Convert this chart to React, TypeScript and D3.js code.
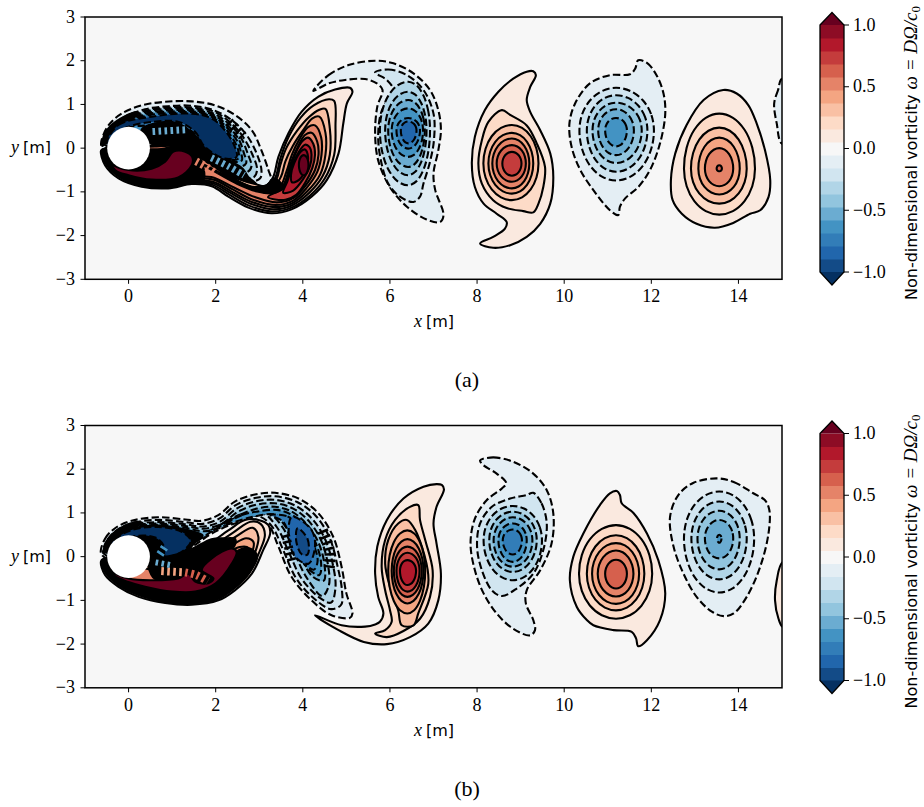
import React from "react";
import * as d3 from "d3";

type P = [number, number];
type Contour = [number, P[]];
type Egg = [number, number, number, number, number, number, number];
type Hatch = [number, number, P[]];

const xTicks = [0, 2, 4, 6, 8, 10, 12, 14];
const yTicks = [-3, -2, -1, 0, 1, 2, 3];
const cbTicks = [-1, -0.5, 0, 0.5, 1];
const rdBuStops = ["#053061", "#2166ac", "#4393c3", "#92c5de", "#d1e5f0", "#f7f7f7", "#fddbc7", "#f4a582", "#d6604d", "#b2182b", "#67001f"];
const cylinderRadius = 0.49;
const MERGED = 99; // contours packed so tightly that they read as solid black

// ---- Panel (a): contours, [band index, points in metres]
const aWakeBlue: Contour[] = [
  [8, [[-.63,.07],[-.58,.3],[-.43,.56],[-.16,.79],[.3,.98],[.84,1.06],[1.45,1.07],[1.98,.98],[2.44,.76],[2.83,.41],[3.05,-.05],[3.21,-.5],[3.27,-.73],[3.13,-.87],[2.9,-.85],[2.52,-.69],[2.06,-.35],[1.53,.11],[.53,.11],[-.54,-.05]]],
  [7, [[-.58,.12],[-.5,.35],[-.35,.53],[-.08,.72],[.38,.89],[.91,.96],[1.45,.97],[1.95,.87],[2.37,.64],[2.71,.3],[2.94,-.12],[3.05,-.5],[3.02,-.69],[2.75,-.77],[2.37,-.58],[1.91,-.2],[1.3,.18],[.53,.22],[-.4,.02]]],
  [6, [[-.56,.14],[-.32,.5],[-.02,.7],[.4,.86],[.95,.93],[1.45,.93],[1.95,.84],[2.32,.6],[2.62,.27],[2.84,-.14],[2.95,-.48],[2.88,-.66],[2.62,-.68],[2.3,-.5],[1.88,-.15],[1.3,.2],[.5,.26]]],
  [5, [[-.55,.14],[-.3,.5],[.02,.7],[.42,.84],[.95,.9],[1.45,.9],[1.93,.8],[2.3,.56],[2.58,.24],[2.74,-.14],[2.82,-.42],[2.72,-.55],[2.5,-.52],[2.15,-.36],[1.75,-.06],[1.3,.26],[.5,.32]]],
  [4, [[-.54,.14],[-.29,.5],[.1,.7],[.45,.81],[.98,.87],[1.45,.87],[1.92,.77],[2.27,.52],[2.53,.2],[2.65,-.12],[2.7,-.34],[2.58,-.42],[2.3,-.37],[2,-.17],[1.65,.05],[1.25,.33],[.5,.38]]],
  [3, [[-.53,.15],[-.27,.51],[.2,.7],[.48,.79],[1,.84],[1.45,.84],[1.92,.74],[2.25,.48],[2.5,.15],[2.58,-.1],[2.6,-.28],[2.4,-.32],[2.15,-.25],[1.85,-.05],[1.6,.15],[1.25,.42],[.5,.44]]],
  [2, [[-.52,.15],[-.25,.52],[.3,.71],[.5,.76],[1,.81],[1.45,.82],[1.92,.71],[2.23,.44],[2.47,.08],[2.53,-.12],[2.52,-.24],[2.3,-.27],[2.1,-.18],[1.8,0],[1.6,.25],[1.25,.5],[.5,.52],[-.05,.46]]],
];
const aBlueBlob: P[] = [[-.5,.15],[-.23,.53],[.53,.72],[1.45,.79],[1.91,.68],[2.21,.41],[2.44,.03],[2.48,-.2],[2.21,-.24],[1.75,.03],[1.53,.37],[1.15,.6],[.53,.6],[0,.49],[-.35,.3],[-.48,.07]];
const aBlackUnder: P[][] = [
  [[.3,.42],[.55,.55],[1.1,.58],[1.45,.36],[1.72,.1],[2.1,-.15],[2.4,-.33],[2.62,-.47],[2.74,-.65],[2.95,-.85],[2.55,-.78],[2.15,-.55],[1.7,-.3],[1.45,-.08],[1.05,.08],[.6,.05],[.45,.2]],
  [[-.6,.05],[-.56,.3],[-.42,.5],[-.1,.72],[.2,.82],[.1,.68],[-.23,.53],[-.5,.15]],
];
const aWakeRed: Contour[] = [
  [10, [[-.63,-.05],[-.54,-.39],[-.23,-.69],[.3,-.88],[.91,-.92],[1.45,-.82],[1.91,-.87],[2.29,-1.11],[2.75,-1.36],[3.28,-1.49],[3.74,-1.4],[4.2,-1.11],[4.55,-.73],[4.82,-.12],[4.93,.57],[5.01,1.02],[5.14,1.29],[5.08,1.38],[4.74,1.34],[4.36,1.18],[3.97,.83],[3.67,.34],[3.44,-.2],[3.32,-.66],[3.17,-.85],[2.9,-.89],[2.52,-.77],[2.14,-.58],[1.68,-.35],[1.45,-.12],[1.07,.03],[.65,-.01],[0,-.05],[-.54,-.01]]],
  [11, [[-.6,-.05],[-.5,-.38],[-.2,-.66],[.32,-.85],[.9,-.89],[1.45,-.79],[1.93,-.84],[2.32,-1.07],[2.78,-1.32],[3.3,-1.45],[3.74,-1.36],[4.18,-1.07],[4.5,-.7],[4.72,-.15],[4.75,.5],[4.72,1.08],[4.6,1.12],[4.25,.98],[3.95,.7],[3.67,.25],[3.48,-.25],[3.37,-.67],[3.2,-.86],[2.9,-.85],[2.5,-.73],[2.1,-.55],[1.68,-.33],[1.45,-.1],[1.07,.06],[.6,.02],[0,-.02],[-.5,0]]],
  [12, [[-.58,-.05],[-.47,-.36],[-.18,-.63],[.33,-.82],[.9,-.86],[1.45,-.76],[1.95,-.81],[2.35,-1.03],[2.8,-1.27],[3.32,-1.4],[3.75,-1.31],[4.15,-1.02],[4.45,-.65],[4.62,-.15],[4.62,.45],[4.52,.9],[4.38,.88],[4.15,.72],[3.87,.4],[3.62,0],[3.48,-.4],[3.4,-.7],[3.22,-.88],[2.9,-.82],[2.5,-.7],[2.1,-.52],[1.68,-.3],[1.45,-.08],[1.07,.08],[.6,.04],[0,-.01],[-.5,.01]]],
  [13, [[-.56,-.05],[-.45,-.34],[-.16,-.6],[.34,-.79],[.9,-.83],[1.45,-.73],[1.97,-.78],[2.38,-1],[2.83,-1.23],[3.35,-1.35],[3.76,-1.26],[4.12,-.97],[4.4,-.6],[4.52,-.15],[4.52,.35],[4.38,.72],[4.22,.68],[4,.4],[3.77,.05],[3.6,-.3],[3.5,-.65],[3.3,-.92],[2.9,-.92],[2.5,-.75],[2.1,-.52],[1.68,-.27],[1.45,-.06],[1.07,.08],[.6,.06],[0,0],[-.5,.01]]],
  [14, [[-.54,-.05],[-.43,-.32],[-.14,-.57],[.35,-.76],[.9,-.8],[1.45,-.7],[1.95,-.72],[2.4,-.95],[2.85,-1.18],[3.38,-1.3],[3.78,-1.2],[4.08,-.92],[4.33,-.55],[4.43,-.15],[4.42,.25],[4.28,.52],[4.12,.48],[3.92,.2],[3.75,-.15],[3.62,-.55],[3.45,-.92],[3.1,-1],[2.6,-.8],[2.1,-.48],[1.68,-.24],[1.45,-.04],[1.07,.06],[.6,.05],[0,0],[-.5,0]]],
  [14, [[-.53,-.06],[-.41,-.3],[-.12,-.54],[.36,-.73],[.9,-.77],[1.45,-.67],[1.9,-.66],[2.42,-.9],[2.9,-1.12],[3.4,-1.24],[3.8,-1.13],[4.06,-.86],[4.28,-.5],[4.36,-.15],[4.33,.15],[4.2,.35],[4.05,.3],[3.87,0],[3.72,-.35],[3.55,-.85],[3.3,-1.02],[2.9,-.95],[2.4,-.7],[2,-.45],[1.65,-.22],[1.45,-.03],[1.07,.05],[.6,.04],[0,0],[-.5,-.01]]],
  [16, [[3.2,-1.12],[3.6,-1.18],[3.85,-1.07],[4.05,-.8],[4.22,-.45],[4.28,-.15],[4.24,.1],[4.12,.24],[3.98,.15],[3.82,-.15],[3.68,-.55],[3.55,-.9]]],
  [17, [[3.55,-1.02],[3.78,-.97],[4,-.72],[4.16,-.42],[4.2,-.15],[4.15,.03],[4.05,.08],[3.9,-.1],[3.75,-.42],[3.65,-.75]]],
  [18, [[3.75,-.78],[3.92,-.72],[4.08,-.45],[4.12,-.2],[4.05,-.03],[3.95,-.08],[3.8,-.35],[3.73,-.6]]],
];
const aBlackOver: P[][] = [
  [[-.6,-.05],[-.5,-.38],[-.2,-.66],[.32,-.85],[.9,-.89],[1.45,-.79],[1.72,-.72],[1.72,-.45],[1.62,-.2],[1.42,0],[1.07,.05],[.75,-.02],[0,-.02]],
  [[1.55,-.28],[2,-.55],[2.5,-.82],[2.95,-.99],[3.3,-1.03],[3.55,-.9],[3.35,-.7],[3.17,-.85],[2.9,-.89],[2.52,-.77],[2.14,-.58],[1.68,-.35]],
];
const aRedBlob: P[] = [[-.5,-.12],[-.31,-.5],[0,-.62],[.53,-.72],[1.14,-.67],[1.45,-.39],[1.46,-.2],[1.3,-.08],[1.03,-.08],[.84,-.31],[.53,-.47],[0,-.5],[-.39,-.35]];
const aHatches: Hatch[] = [
  [4, 7, [[.55,.38],[1.3,.42]]],
  [4, 7, [[1.9,-.22],[2.3,-.42],[2.65,-.62]]],
  [14, 8, [[1.55,-.3],[1.8,-.44],[2.02,-.6]]],
  [MERGED, 10, [[2.3,.6],[2.62,.28]]],
  [MERGED, 12, [[6.88,.87],[6.92,.55],[6.9,.26]]],
];
const aShapes: Contour[] = [
  [8, [[4.24,1.31],[4.59,1.67],[5.05,1.9],[5.66,2],[6.08,1.94],[6.54,1.71],[6.92,1.33],[7.11,.87],[7.17,.41],[7.11,-.05],[7,-.58],[7.04,-.96],[7.23,-1.53],[7.15,-1.69],[6.84,-1.63],[6.39,-1.34],[6,-.89],[5.73,-.28],[5.66,.34],[5.71,.95],[5.83,1.33],[5.7,1.48],[5.43,1.58],[4.97,1.56],[4.59,1.48]]],
  [7, [[5.66,1.73],[5.96,1.8],[6.39,1.67],[6.77,1.33],[7,.79],[7.01,.18],[6.91,-.35],[6.77,-.81],[6.69,-1.11],[6.54,-1.23],[6.23,-1.11],[5.96,-.81],[5.79,-.27],[5.73,.26],[5.79,.79],[5.96,1.14],[6.08,1.33],[5.93,1.56]]],
  [10, [[9.29,1.76],[9.35,1.67],[9.22,1.4],[9.14,1.1],[9.22,.83],[9.45,.41],[9.68,-.12],[9.75,-.66],[9.68,-1.27],[9.45,-1.73],[9.14,-2.03],[8.76,-2.22],[8.37,-2.28],[8.07,-2.18],[8.37,-2.03],[8.64,-1.84],[8.68,-1.69],[8.45,-1.5],[8.15,-1.27],[7.95,-.89],[7.88,-.35],[7.95,.26],[8.18,.87],[8.49,1.29],[8.83,1.59],[9.14,1.75]]],
  [11, [[8.57,.87],[8.76,.76],[9.14,.52],[9.37,.11],[9.56,-.43],[9.52,-.89],[9.41,-1.27],[9.29,-1.47],[9.06,-1.44],[8.68,-1.37],[8.37,-1.19],[8.11,-.81],[8.03,-.35],[8.11,.18],[8.26,.6]]],
  [8, [[11.7,2.01],[11.9,1.95],[12.12,1.67],[12.28,1.25],[12.32,.79],[12.2,.11],[11.97,-.5],[11.7,-.89],[11.4,-1.15],[11.28,-1.34],[11.24,-1.53],[11.05,-1.42],[10.67,-.96],[10.37,-.5],[10.17,.03],[10.12,.56],[10.25,1.02],[10.59,1.48],[11.05,1.67],[11.51,1.69],[11.63,1.82]]],
  [10, [[13.65,1.33],[13.96,1.25],[14.23,.98],[14.42,.56],[14.61,-.05],[14.73,-.73],[14.69,-1.12],[14.5,-1.42],[14.27,-1.5],[13.88,-1.71],[13.46,-1.82],[13.04,-1.73],[12.7,-1.5],[12.49,-1.19],[12.45,-.73],[12.55,-.12],[12.81,.53],[13.2,1.1]]],
  [8, [[15,1.59],[14.91,1.33],[14.82,1.02],[14.88,.56],[15,.1],[15.4,.1],[15.4,1.59]]],
];
const aRings: Egg[] = [
  [19, 4.02,-.38,.11,.11,.22,.24],
  [6, 6.42,.41,.65,.5,1.11,1.26],[5, 6.42,.41,.53,.42,.88,1.03],[4, 6.42,.41,.46,.38,.69,.84],[3, 6.42,.41,.38,.34,.5,.61],[2, 6.42,.41,.27,.27,.28,.42],[1, 6.42,.41,.17,.19,.2,.3],
  [12, 8.8,-.35,.655,.61,.88,.84],[13, 8.8,-.35,.54,.49,.7,.69],[14, 8.8,-.35,.45,.4,.57,.57],[15, 8.8,-.35,.35,.32,.42,.42],[16, 8.8,-.35,.22,.22,.265,.28],
  [7, 11.19,.41,.84,.87,.97,1.15],[6, 11.19,.41,.67,.72,.8,.95],[5, 11.19,.41,.54,.59,.63,.75],[4, 11.19,.41,.41,.41,.48,.57],[3, 11.19,.41,.25,.25,.28,.37],
  [11, 13.56,-.47,.81,.82,1.26,1.05],[12, 13.56,-.47,.65,.63,.94,.8],[13, 13.56,-.47,.48,.47,.71,.59],[14, 13.56,-.47,.33,.32,.47,.4],[15, 13.56,-.47,.06,.06,.08,.06],
];

// ---- Panel (b)
const bWakeBlue: Contour[] = [
  [8, [[-.63,.07],[-.54,.41],[-.31,.65],[.07,.82],[.68,.9],[1.3,.85],[1.68,.82],[2.06,.95],[2.44,1.26],[2.9,1.42],[3.36,1.46],[3.9,1.33],[4.36,.99],[4.7,.45],[4.89,-.23],[5,-.84],[5.14,-1.3],[5.08,-1.4],[4.66,-1.34],[4.2,-1],[3.74,-.46],[3.44,.23],[3.21,.72],[2.9,.84],[2.44,.76],[1.91,.53],[1.3,.15],[.53,.07],[-.39,-.08]]],
  [7, [[-.58,.1],[-.48,.39],[-.27,.6],[.08,.77],[.68,.84],[1.3,.79],[1.7,.75],[2.08,.87],[2.46,1.18],[2.9,1.34],[3.36,1.38],[3.87,1.25],[4.3,.93],[4.62,.42],[4.8,-.23],[4.9,-.78],[4.88,-1.1],[4.65,-1.2],[4.27,-.97],[3.85,-.5],[3.55,.15],[3.3,.68],[3,.92],[2.5,.85],[1.95,.6],[1.3,.22],[.53,.12],[-.35,-.03]]],
  [6, [[-.56,.12],[-.44,.38],[-.23,.57],[.09,.73],[.68,.79],[1.3,.74],[1.72,.69],[2.1,.8],[2.48,1.1],[2.9,1.26],[3.36,1.3],[3.82,1.17],[4.22,.86],[4.52,.38],[4.7,-.23],[4.75,-.7],[4.65,-1.05],[4.4,-.95],[3.97,-.5],[3.68,.1],[3.42,.65],[3.1,.98],[2.55,.92],[2,.66],[1.35,.28],[.53,.17],[-.3,0]]],
  [5, [[-.54,.13],[-.4,.38],[-.2,.55],[.1,.7],[.68,.76],[1.3,.7],[1.72,.64],[2.12,.74],[2.5,1.02],[2.9,1.18],[3.36,1.22],[3.78,1.1],[4.15,.8],[4.43,.35],[4.58,-.2],[4.6,-.65],[4.45,-.9],[4.1,-.5],[3.8,.1],[3.55,.65],[3.2,1],[2.6,.97],[2.05,.7],[1.4,.34],[.6,.2],[-.25,.03]]],
  [4, [[-.52,.14],[-.38,.38],[-.18,.54],[.1,.67],[.68,.73],[1.3,.66],[1.72,.58],[2.15,.68],[2.55,.95],[2.95,1.1],[3.36,1.14],[3.75,1.03],[4.08,.75],[4.36,.32],[4.5,-.2],[4.48,-.55],[4.22,-.45],[3.9,.1],[3.65,.62],[3.3,.98],[2.65,.95],[2.08,.68],[1.45,.3],[.8,.1],[.3,.18],[-.2,.08]]],
  [3, [[2.2,.72],[2.6,.95],[2.95,1.03],[3.4,1.07],[3.72,.97],[4.03,.72],[4.3,.3],[4.42,-.15],[4.38,-.42],[4.15,-.3],[3.88,.1],[3.7,.6],[3.4,.95],[2.8,.9]]],
  [2, [[3.25,.95],[3.65,.92],[3.98,.68],[4.24,.28],[4.34,-.1],[4.25,-.3],[3.95,-.05],[3.72,.4],[3.55,.8]]],
  [1, [[3.75,.91],[4.2,.61],[4.28,.23],[4.13,-.16],[3.82,0],[3.68,.45]]],
  [0, [[3.88,.65],[4.11,.4],[4.11,.05],[3.98,.05],[3.85,.35]]],
  [MERGED, [[-.5,.14],[-.36,.38],[-.15,.52],[.1,.64],[.68,.71],[1.25,.63],[1.7,.48],[1.55,.35],[1.3,.1],[.85,-.05],[.5,.1],[.1,.28],[-.2,.1]]],
];
const bBlueBlob: P[] = [[-.46,.15],[-.31,.39],[.07,.61],[.68,.68],[1.22,.57],[1.43,.36],[1.22,.11],[.84,0],[.8,.26],[.61,.44],[.15,.47],[-.16,.36],[-.39,.15]];
const bBlackUnder: P[][] = [
  [[-.58,.08],[-.48,.39],[-.27,.6],[.08,.77],[.3,.78],[.07,.61],[-.31,.39],[-.46,.15]],
];
const bWakeRed: Contour[] = [
  [10, [[-.63,-.1],[-.54,-.42],[-.23,-.69],[.23,-.92],[.84,-1.06],[1.45,-1.1],[2.06,-1],[2.44,-.77],[2.83,-.39],[3.09,.15],[3.25,.53],[3.21,.72],[2.98,.84],[2.67,.84],[2.29,.6],[1.68,.2],[.91,-.02],[.4,-.12],[0,-.05],[-.5,-.02]]],
  [11, [[-.6,-.12],[-.5,-.4],[-.2,-.66],[.24,-.88],[.84,-1.03],[1.45,-1.07],[2.04,-.97],[2.4,-.74],[2.77,-.37],[3,.1],[3.13,.5],[3.03,.75],[2.8,.8],[2.4,.55],[1.75,.15],[1,-.05],[.45,-.15],[0,-.08],[-.5,-.05]]],
  [12, [[-.58,-.13],[-.47,-.4],[-.18,-.64],[.25,-.85],[.84,-1],[1.45,-1.04],[2,-.94],[2.36,-.71],[2.7,-.35],[2.9,.08],[2.98,.45],[2.85,.66],[2.45,.45],[1.85,.1],[1.1,-.1],[.5,-.18],[0,-.1],[-.5,-.07]]],
  [13, [[-.56,-.14],[-.45,-.38],[-.16,-.62],[.26,-.83],[.84,-.98],[1.45,-1.01],[1.97,-.91],[2.32,-.68],[2.63,-.33],[2.82,.05],[2.87,.33],[2.7,.42],[2.4,.28],[1.9,0],[1.2,-.15],[.55,-.22],[0,-.13],[-.5,-.09]]],
  [14, [[-.54,-.14],[-.43,-.38],[-.14,-.6],[.27,-.81],[.84,-.95],[1.45,-.98],[1.95,-.88],[2.28,-.65],[2.57,-.3],[2.72,.02],[2.75,.2],[2.55,.22],[2.2,.05],[1.75,-.2],[1.2,-.3],[.6,-.3],[0,-.2],[-.5,-.1]]],
];
const bBlackOver: P[][] = [
  [[-.6,-.12],[-.5,-.4],[-.2,-.66],[.24,-.88],[.84,-1.03],[1.45,-1.07],[2.04,-.97],[2.4,-.74],[2.77,-.37],[2.95,.02],[2.75,.2],[2.48,.11],[2.37,-.16],[2,-.61],[1.53,-.8],[1,-.8],[.38,-.69],[0,-.58],[-.34,-.42],[-.47,-.16]],
  [[.45,.05],[.85,0],[1.25,.1],[1.5,.2],[1.9,.4],[2.2,.42],[2.45,.4],[2.4,.2],[1.9,-.02],[1.7,-.3],[1.93,-.5],[1.83,-.6],[1.53,-.57],[1.37,-.39],[1.14,-.5],[.6,-.5],[.45,-.2]],
];
const bRedBlob: P[] = [[-.47,-.16],[-.34,-.42],[0,-.58],[.38,-.69],[1,-.8],[1.53,-.8],[2,-.61],[2.37,-.16],[2.48,.11],[2.37,.19],[1.91,-.04],[1.68,-.31],[1.95,-.5],[1.83,-.61],[1.53,-.57],[1.37,-.39],[1.14,-.5],[.53,-.54],[0,-.5],[-.39,-.32]];
const bHatches: Hatch[] = [
  [13, 8, [[.75,-.33],[1.3,-.36]]],
  [15, 8, [[1.3,-.36],[1.55,-.42],[1.82,-.56]]],
  [4, 6, [[.62,-.13],[1,-.2]]],
  [3, 8, [[.72,.05],[.85,.25]]],
  [MERGED, 11, [[4.45,.6],[4.62,.1],[4.6,-.3]]],
  [MERGED, 9, [[3.6,.5],[3.75,-.1]]],
];
const bShapes: Contour[] = [
  [10, [[4.28,-1.34],[4.89,-1.57],[5.43,-1.6],[5.66,-1.55],[5.77,-1.49],[5.85,-1.3],[5.73,-.92],[5.66,-.39],[5.71,.23],[5.93,.84],[6.31,1.33],[6.77,1.6],[7.07,1.66],[7.19,1.64],[7.24,1.54],[7.07,1.14],[7,.76],[7.07,.3],[7.17,-.39],[7.11,-1],[6.88,-1.53],[6.46,-1.84],[5.93,-2],[5.4,-1.95],[4.82,-1.68]]],
  [11, [[6.65,1.18],[6.69,.84],[6.81,.38],[6.98,-.31],[6.92,-.92],[6.69,-1.42],[6.31,-1.7],[5.93,-1.84],[5.66,-1.76],[5.89,-1.68],[6.04,-1.49],[6,-1.22],[5.89,-.77],[5.81,-.23],[5.89,.38],[6.12,.84],[6.46,1.14]]],
  [12, [[6.39,.84],[6.58,.61],[6.84,-.16],[6.88,-.62],[6.65,-1.3],[6.54,-1.57],[6.27,-1.57],[6.19,-1.23],[6,-.69],[5.89,-.16],[5.96,.38],[6.19,.76]]],
  [8, [[8.07,2.2],[8.37,2.27],[8.83,2.17],[9.29,1.9],[9.6,1.52],[9.75,.99],[9.71,.3],[9.45,-.31],[9.14,-.77],[9.12,-1.07],[9.29,-1.45],[9.33,-1.68],[9.22,-1.8],[8.83,-1.65],[8.45,-1.3],[8.15,-.84],[7.95,-.31],[7.85,.3],[7.95,.87],[8.22,1.29],[8.57,1.56],[8.67,1.68],[8.45,1.9],[8.15,2.09]]],
  [7, [[9.29,1.46],[9.48,1.22],[9.6,.76],[9.52,.15],[9.29,-.39],[8.91,-.73],[8.57,-.9],[8.34,-.77],[8.11,-.31],[8,.23],[8.07,.76],[8.34,1.14],[8.76,1.33],[9.14,1.41]]],
  [10, [[11.21,1.5],[11.28,1.41],[11.32,1.22],[11.59,1],[11.9,.53],[12.16,-.08],[12.32,-.84],[12.2,-1.45],[11.9,-1.91],[11.7,-2.05],[11.65,-1.87],[11.55,-1.72],[11.13,-1.68],[10.67,-1.57],[10.52,-1.45],[10.29,-1.15],[10.13,-.54],[10.21,0],[10.44,.53],[10.82,1.18],[11.05,1.45]]],
  [8, [[13.5,1.79],[13.89,1.71],[14.34,1.45],[14.61,1.29],[14.71,1.06],[14.69,.53],[14.5,-.23],[14.19,-.92],[13.89,-1.3],[13.66,-1.36],[13.39,-1.26],[13.04,-.92],[12.74,-.39],[12.51,.23],[12.43,.91],[12.62,1.41],[12.97,1.69]]],
  [10, [[15.02,-.12],[14.88,-.54],[14.84,-1],[14.92,-1.42],[15.02,-1.61],[15.4,-1.61],[15.4,-.12]]],
];
const bRings: Egg[] = [
  [13, 6.4,-.32,.44,.41,.92,.98],[14, 6.4,-.32,.36,.37,.72,.75],[15, 6.4,-.32,.31,.33,.55,.6],[16, 6.4,-.32,.25,.28,.41,.48],[17, 6.4,-.32,.17,.2,.24,.33],
  [6, 8.82,.38,.67,.67,.78,.92],[5, 8.82,.38,.54,.55,.65,.73],[4, 8.82,.38,.44,.45,.52,.61],[3, 8.82,.38,.33,.32,.38,.5],[2, 8.82,.38,.23,.21,.24,.33],
  [11, 11.19,-.39,.85,.83,1.11,1.03],[12, 11.19,-.39,.67,.65,.88,.84],[13, 11.19,-.39,.55,.53,.7,.69],[14, 11.19,-.39,.42,.4,.53,.52],[15, 11.19,-.39,.25,.25,.32,.34],
  [7, 13.56,.42,.81,.8,1.07,1.24],[6, 13.56,.42,.64,.63,.84,.94],[5, 13.56,.42,.5,.47,.63,.71],[4, 13.56,.42,.33,.32,.42,.46],[3, 13.56,.42,.05,.05,.08,.1],
];

const W = 924, H = 807;
const plotLeft = 85, plotRight = 782, plotH = 262.3;
const cmap = d3.scaleLinear<string>().domain(d3.range(11).map((i) => i / 10)).range(rdBuStops).interpolate(d3.interpolateRgb);
const bandColor = (j: number) => (j === MERGED ? "#000" : cmap(Math.max(0, Math.min(1, (j + 1) / 20))));
const xScale = d3.scaleLinear().domain([-1, 15]).range([plotLeft, plotRight]);
const closed = d3.line<P>().curve(d3.curveCatmullRomClosed.alpha(0.5));
const open = d3.line<P>().curve(d3.curveCatmullRom.alpha(0.5));
const serif = "'Liberation Serif', serif";
const sans = "'DejaVu Sans', sans-serif";

function eggPoints(e: Egg): P[] {
  const [, cx, cy, L, R, U, D] = e;
  return d3.range(0, 16).map((i): P => {
    const a = (i / 16) * 2 * Math.PI;
    const c = Math.cos(a), s = Math.sin(a);
    return [cx + c * (c < 0 ? L : R), cy + s * (s > 0 ? U : D)];
  });
}

function ContourPath({ band, pts, y }: { band: number; pts: P[]; y: d3.ScaleLinear<number, number> }) {
  const d = closed(pts.map((p): P => [xScale(p[0]), y(p[1])])) || "";
  return <path d={d} fill={bandColor(band)} stroke="#000" strokeWidth={2.1} strokeDasharray={band < 9 ? "7.4 3.2" : undefined} strokeLinejoin="round" />;
}

function Panel({ id, top, label, blue, blueBlob, blackUnder, red, blackOver, redBlob, hatches, shapes, rings }: {
  id: string; top: number; label: string; blue: Contour[]; blueBlob: P[]; blackUnder: P[][]; red: Contour[]; blackOver: P[][]; redBlob: P[]; hatches: Hatch[]; shapes: Contour[]; rings: Egg[];
}) {
  const y = d3.scaleLinear().domain([-3, 3]).range([top + plotH, top]);
  const bottom = top + plotH;
  const cbY = d3.scaleLinear().domain([-1, 1]).range([top + 255, top + 8]);
  const edges = d3.range(20).map((i) => -1 + (2 * i) / 19);
  const cbL = 820, cbR = 844, cbM = 832;
  const mid = (plotLeft + plotRight) / 2 + 0.5;
  return (
    <g>
      <clipPath id={id}><rect x={plotLeft} y={top} width={plotRight - plotLeft} height={plotH} /></clipPath>
      <rect x={plotLeft} y={top} width={plotRight - plotLeft} height={plotH} fill="#f7f7f7" />
      <g clipPath={`url(#${id})`}>
        {blue.map((c, i) => <ContourPath key={"b" + i} band={c[0]} pts={c[1]} y={y} />)}
        {blackUnder.map((c, i) => <ContourPath key={"u" + i} band={MERGED} pts={c} y={y} />)}
        <ContourPath band={-1} pts={blueBlob} y={y} />
        {red.map((c, i) => <ContourPath key={"r" + i} band={c[0]} pts={c[1]} y={y} />)}
        {blackOver.map((c, i) => <ContourPath key={"o" + i} band={MERGED} pts={c} y={y} />)}
        <ContourPath band={19} pts={redBlob} y={y} />
        {hatches.map((h, i) => (
          <path key={"h" + i} d={open(h[2].map((p): P => [xScale(p[0]), y(p[1])])) || ""} fill="none"
            stroke={bandColor(h[0])} strokeWidth={h[1]} strokeDasharray="2.6 3.4" />
        ))}
        {shapes.map((c, i) => <ContourPath key={"s" + i} band={c[0]} pts={c[1]} y={y} />)}
        {rings.map((r, i) => <ContourPath key={"e" + i} band={r[0]} pts={eggPoints(r)} y={y} />)}
        <circle cx={xScale(0)} cy={y(0)} r={xScale(cylinderRadius) - xScale(0)} fill="#fff" />
      </g>
      <rect x={plotLeft} y={top} width={plotRight - plotLeft} height={plotH} fill="none" stroke="#000" strokeWidth={1.5} />
      {xTicks.map((t) => (
        <g key={t}>
          <line x1={xScale(t)} x2={xScale(t)} y1={bottom} y2={bottom + 4.5} stroke="#000" strokeWidth={1} />
          <text x={xScale(t)} y={bottom + 23} textAnchor="middle" fontFamily={serif} fontSize={18}>{t}</text>
        </g>
      ))}
      {yTicks.map((t) => (
        <g key={t}>
          <line x1={plotLeft - 4.5} x2={plotLeft} y1={y(t)} y2={y(t)} stroke="#000" strokeWidth={1} />
          <text x={plotLeft - 10} y={y(t) + 5.5} textAnchor="end" fontFamily={serif} fontSize={18}>{t < 0 ? `\u2212${-t}` : t}</text>
        </g>
      ))}
      <text x={mid} y={bottom + 48} textAnchor="middle" fontSize={16}>
        <tspan fontFamily={serif} fontStyle="italic" fontSize={18}>x</tspan>
        <tspan fontFamily={sans} dx={4}>[m]</tspan>
      </text>
      <text x={31} y={y(0) + 5} textAnchor="middle" fontSize={16}>
        <tspan fontFamily={serif} fontStyle="italic" fontSize={18}>y</tspan>
        <tspan fontFamily={sans} dx={4}>[m]</tspan>
      </text>
      <text x={467} y={top + 370} textAnchor="middle" fontFamily={serif} fontSize={22}>{label}</text>

      {edges.slice(0, -1).map((v, j) => (
        <rect key={j} x={cbL} width={cbR - cbL} y={cbY(edges[j + 1])} height={cbY(v) - cbY(edges[j + 1]) + 0.5} fill={bandColor(j)} />
      ))}
      <path d={`M${cbL},${cbY(1)}L${cbM},${top - 4.5}L${cbR},${cbY(1)}Z`} fill={bandColor(19)} />
      <path d={`M${cbL},${cbY(-1)}L${cbM},${top + 268}L${cbR},${cbY(-1)}Z`} fill={bandColor(-1)} />
      <path d={`M${cbL},${cbY(1)}L${cbM},${top - 4.5}L${cbR},${cbY(1)}V${cbY(-1)}L${cbM},${top + 268}L${cbL},${cbY(-1)}Z`} fill="none" stroke="#000" strokeWidth={1.3} />
      {cbTicks.map((t) => (
        <g key={t}>
          <line x1={cbR} x2={cbR + 5} y1={cbY(t)} y2={cbY(t)} stroke="#000" strokeWidth={1} />
          <text x={cbR + 9} y={cbY(t) + 5.5} fontFamily={serif} fontSize={18}>{t < 0 ? `\u2212${(-t).toFixed(1)}` : t.toFixed(1)}</text>
        </g>
      ))}
      <text transform={`translate(917,${top + 136}) rotate(-90)`} textAnchor="middle" fontSize={16}>
        <tspan fontFamily={sans}>Non-dimensional vorticity </tspan>
        <tspan fontFamily={serif} fontStyle="italic" fontSize={19}>{"\u03c9 = D\u03a9/c"}</tspan>
        <tspan fontFamily={serif} fontSize={13} dy={3}>0</tspan>
      </text>
    </g>
  );
}

export default function App() {
  return (
    <svg width={W} height={H} viewBox={`0 0 ${W} ${H}`} style={{ position: "absolute", left: 0, top: 0, display: "block", background: "#fff" }}>
      <Panel id="clipA" top={17} label="(a)" blue={aWakeBlue} blueBlob={aBlueBlob} blackUnder={aBlackUnder} red={aWakeRed} blackOver={aBlackOver} redBlob={aRedBlob} hatches={aHatches} shapes={aShapes} rings={aRings} />
      <Panel id="clipB" top={425.5} label="(b)" blue={bWakeBlue} blueBlob={bBlueBlob} blackUnder={bBlackUnder} red={bWakeRed} blackOver={bBlackOver} redBlob={bRedBlob} hatches={bHatches} shapes={bShapes} rings={bRings} />
    </svg>
  );
}
